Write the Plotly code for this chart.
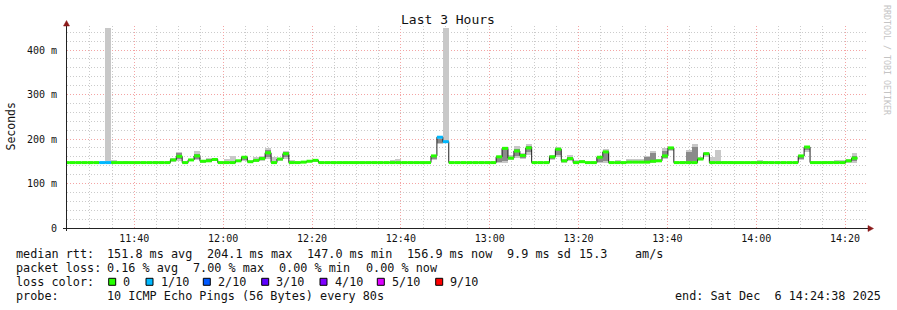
import plotly.graph_objects as go
from datetime import datetime, timedelta

# ---------------- data ----------------
BIN_START = datetime(2025, 12, 6, 11, 24, 7)   # first 80 s RRD bin
STEP_S = 80
X_START = "2025-12-06 11:24:51"
X_END = "2025-12-06 14:24:56"

# median rtt per 80 s bin (ms)
median_ms = [
    147, 147, 147, 147, 147, 147, 147, 147, 147, 147,
    147, 147, 147, 147, 147, 147, 147, 147, 153, 161,
    147, 153, 162, 150, 151, 154, 147, 147, 147, 151,
    159, 149, 152, 156, 169, 147, 155, 167, 147, 147,
    148, 150, 152, 147, 147, 147, 147, 147, 147, 147,
    147, 147, 147, 147, 147, 147, 147, 147, 147, 147,
    147, 147, 162, 204, 194, 147, 147, 147, 147, 147,
    147, 147, 147, 160, 179, 157, 173, 163, 180, 147,
    147, 147, 160, 177, 151, 156, 147, 149, 147, 147,
    159, 171, 147, 147, 147, 148, 148, 148, 148, 150,
    151, 162, 180, 147, 147, 147, 147, 155, 167, 147,
    147, 147, 147, 147, 147, 147, 147, 147, 147, 147,
    147, 147, 147, 147, 162, 182, 147, 147, 147, 147,
    147, 147, 151, 157,
]
# lost pings (of 10) per bin, listed only where non-zero
loss_bins = [6, 7, 63, 64]
loss_counts = [1, 1, 1, 1]

# outer smoke (min..max ping) per bin, ms
smoke_bins = [7, 8, 10, 15, 18, 19, 21, 22, 23, 24, 25, 27, 28, 29, 30, 32, 33, 34, 35, 36,
              37, 38, 40, 42, 55, 56, 62, 63, 64, 73, 74, 75, 76, 77, 78, 82, 83, 84, 85, 86,
              87, 90, 91, 93, 95, 96, 97, 98, 99, 100, 101, 102, 104, 105, 106, 107, 108, 109, 110, 111,
              112, 117, 118, 124, 125, 128, 129, 130, 131, 132, 133]
smoke_lo = [147, 147, 147, 147, 148, 150, 150, 152, 147, 148, 150, 147, 147, 148, 150, 148, 150, 155, 147, 150,
            155, 147, 147, 149, 147, 147, 152, 189, 195, 147, 147, 152, 158, 155, 164, 152, 160, 147, 150, 147,
            147, 147, 147, 147, 147, 147, 147, 147, 147, 148, 155, 172, 147, 147, 147, 152, 160, 147, 147, 147,
            147, 147, 147, 152, 170, 147, 147, 147, 147, 147, 147]
smoke_hi = [449, 152, 150, 150, 157, 171, 156, 174, 152, 157, 157, 154, 161, 153, 160, 159, 162, 180, 159, 158,
            172, 153, 149, 154, 153, 155, 165, 207, 449, 161, 182, 163, 184, 168, 189, 164, 181, 155, 164, 152,
            152, 162, 177, 153, 154, 154, 155, 162, 174, 156, 180, 183, 150, 176, 189, 159, 171, 160, 175, 150,
            150, 152, 151, 165, 184, 151, 151, 152, 153, 156, 168]

# dense core of the smoke (inner pings) per bin, ms
core_bins = [18, 19, 22, 24, 25, 30, 33, 34, 37, 62, 63, 73, 74, 75, 76, 77, 78, 82, 83, 84,
             85, 90, 91, 98, 99, 101, 102, 105, 106, 107, 108, 124, 125, 132, 133]
core_lo = [150, 155, 156, 149, 152, 153, 153, 160, 160, 156, 192, 148, 150, 154, 162, 158, 170, 155, 165, 149,
           153, 148, 150, 148, 149, 158, 175, 148, 150, 154, 163, 156, 175, 148, 150]
core_hi = [155, 168, 166, 155, 156, 159, 159, 175, 170, 162, 201, 159, 178, 160, 178, 165, 185, 161, 178, 153,
           159, 160, 174, 160, 169, 172, 181, 171, 182, 157, 169, 162, 182, 153, 162]

# axis ticks
x_tick_times = ["11:40", "12:00", "12:20", "12:40", "13:00", "13:20", "13:40", "14:00", "14:20"]
y_tick_vals = [0, 100, 200, 300, 400]
y_tick_text = ["0", "100 m", "200 m", "300 m", "400 m"]

# loss colour legend
loss_levels = [0, 1, 2, 3, 4, 5, 9]
loss_labels = ["0", "1/10", "2/10", "3/10", "4/10", "5/10", "9/10"]
loss_colors = ["#26ff00", "#00b8ff", "#0059ff", "#5e00ff", "#7e00ff", "#dd00ff", "#ff0000"]

title_text = "Last 3 Hours"
row1_parts = ["median rtt:", "151.8 ms avg", "204.1 ms max", "147.0 ms min", "156.9 ms now",
              "9.9 ms sd", "15.3", "am/s"]
row2_parts = ["packet loss:", "0.16 % avg", "7.00 % max", "0.00 % min", "0.00 % now"]
row3_parts = ["loss color:"]
row4_parts = ["probe:", "10 ICMP Echo Pings (56 Bytes) every 80s"]
end_text = "end: Sat Dec  6 14:24:38 2025"
credit_text = "RRDTOOL / TOBI OETIKER"

# ---------------- geometry ----------------
W, H = 897, 310
L, R, T, B = 67, 30, 26, 82
PW, PH = W - L - R, H - T - B
Y_PER_MS = 0.445
Y_MAX = PH / Y_PER_MS
MONO = "DejaVu Sans Mono"

row1_x = [16, 107.3, 207.3, 307.3, 407.3, 507.3, 578.5, 635.0]
row2_x = [16, 107.3, 193.3, 279.3, 366.0]
row3_x = [16]
row4_x = [16, 107.3]
row_y = [254.2, 268.0, 281.8, 295.6]
box_x = [108.7, 146.0, 203.3, 261.7, 320.0, 377.3, 435.7]


def px(x):
    return (x - L) / PW


def py(y):
    return (H - B - y) / PH


def tstr(i):
    return (BIN_START + timedelta(seconds=STEP_S * i)).strftime("%Y-%m-%d %H:%M:%S")


def nb(s):
    return s.replace(" ", "\u00a0")


n = len(median_ms)
loss_of = [0] * n
for b, c in zip(loss_bins, loss_counts):
    loss_of[b] = c

fig = go.Figure()

# smoke
fig.add_trace(go.Bar(
    x=[tstr(i) for i in smoke_bins], base=smoke_lo,
    y=[h - l for l, h in zip(smoke_lo, smoke_hi)],
    width=STEP_S * 1000, offset=0,
    marker=dict(color="#c8c8c8", line=dict(width=0)), hoverinfo="skip", showlegend=False))
fig.add_trace(go.Bar(
    x=[tstr(i) for i in core_bins], base=core_lo,
    y=[h - l for l, h in zip(core_lo, core_hi)],
    width=STEP_S * 1000, offset=0,
    marker=dict(color="#8a8a8a", line=dict(width=0)), hoverinfo="skip", showlegend=False))

# black median step line
fig.add_trace(go.Scatter(
    x=[tstr(i) for i in range(n + 1)], y=median_ms + [median_ms[-1]],
    mode="lines", line=dict(color="#202020", width=1, shape="hv"),
    hoverinfo="skip", showlegend=False))

# loss-coloured median bands
for lvl, col in zip(loss_levels, loss_colors):
    xs, ys = [], []
    for i in range(n):
        if loss_of[i] == lvl:
            xs += [tstr(i), tstr(i + 1), None]
            ys += [median_ms[i], median_ms[i], None]
    if xs:
        fig.add_trace(go.Scatter(x=xs, y=ys, mode="lines",
                                 line=dict(color=col, width=3),
                                 hoverinfo="skip", showlegend=False))

GRID_MINOR = "#cbcbcb"
GRID_MAJOR = "#f4a4a4"
DOT = "1px,2px"

fig.update_layout(
    width=W, height=H,
    margin=dict(l=L, r=R, t=T, b=B, pad=0),
    paper_bgcolor="white", plot_bgcolor="white",
    barmode="overlay", bargap=0,
    showlegend=False,
    font=dict(family=MONO, size=10, color="#111"),
    xaxis=dict(
        type="date", range=[X_START, X_END],
        tickvals=["2025-12-06 " + t + ":00" for t in x_tick_times],
        ticktext=x_tick_times,
        showgrid=True, gridcolor=GRID_MAJOR, griddash=DOT, gridwidth=1,
        minor=dict(dtick=300000, tick0="2025-12-06 11:40:00", showgrid=True,
                   gridcolor=GRID_MINOR, griddash=DOT, gridwidth=1),
        showline=False, zeroline=False, ticks="", ticklabelstandoff=3,
        tickfont=dict(family=MONO, size=10, color="#111"),
        fixedrange=True,
    ),
    yaxis=dict(
        range=[0, Y_MAX],
        tickvals=y_tick_vals, ticktext=y_tick_text,
        showgrid=True, gridcolor=GRID_MAJOR, griddash=DOT, gridwidth=1,
        minor=dict(dtick=20, tick0=0, showgrid=True,
                   gridcolor=GRID_MINOR, griddash=DOT, gridwidth=1),
        showline=False, zeroline=False, ticks="", ticklabelstandoff=9,
        tickfont=dict(family=MONO, size=10, color="#111"),
        fixedrange=True,
    ),
)

shapes = []
AX = "#222222"
ARROW = "#8b1a1a"
# axis lines
shapes.append(dict(type="line", xref="paper", yref="paper",
                   x0=px(66.5), x1=px(66.5), y0=py(231), y1=py(24),
                   line=dict(color=AX, width=1)))
shapes.append(dict(type="line", xref="paper", yref="paper",
                   x0=px(63), x1=px(869), y0=py(228.5), y1=py(228.5),
                   line=dict(color=AX, width=1)))
# arrows
shapes.append(dict(type="path", xref="paper", yref="paper",
                   path=f"M {px(63.5)} {py(26)} L {px(69.5)} {py(26)} L {px(66.5)} {py(20.5)} Z",
                   fillcolor=ARROW, line=dict(color=ARROW, width=0.5)))
shapes.append(dict(type="path", xref="paper", yref="paper",
                   path=f"M {px(868)} {py(225.5)} L {px(868)} {py(231.5)} L {px(873.5)} {py(228.5)} Z",
                   fillcolor=ARROW, line=dict(color=ARROW, width=0.5)))

annotations = []
TXT = dict(family=MONO, size=11.8, color="#111")


def note(text, x, y, font, xanchor="left", angle=0):
    return dict(text=nb(text), xref="paper", yref="paper", x=px(x), y=py(y),
                xanchor=xanchor, yanchor="middle", textangle=angle,
                showarrow=False, font=font, borderpad=0, borderwidth=0)


annotations.append(note(title_text, 447.5, 19.5, dict(family=MONO, size=13, color="#111"), "center"))
annotations.append(note("Seconds", 10.5, 127, dict(family=MONO, size=11.5, color="#111"), "center", -90))
annotations.append(note(credit_text, 887, 60, dict(family=MONO, size=8.3, color="#c4c4c4"), "center", 90))

for parts, xs, yy in zip([row1_parts, row2_parts, row3_parts, row4_parts],
                         [row1_x, row2_x, row3_x, row4_x], row_y):
    for txt, xx in zip(parts, xs):
        annotations.append(note(txt, xx, yy, TXT))
annotations.append(note(end_text, 880.5, row_y[3], TXT, "right"))

for bx, lab, col in zip(box_x, loss_labels, loss_colors):
    shapes.append(dict(type="rect", xref="paper", yref="paper",
                       x0=px(bx), x1=px(bx + 7), y0=py(row_y[2] + 3.5), y1=py(row_y[2] - 3.5),
                       fillcolor=col, line=dict(color="#000", width=1)))
    annotations.append(note(lab, bx + 14.6, row_y[2], TXT))

fig.update_layout(shapes=shapes, annotations=annotations)
fig.write_html("out.html")
